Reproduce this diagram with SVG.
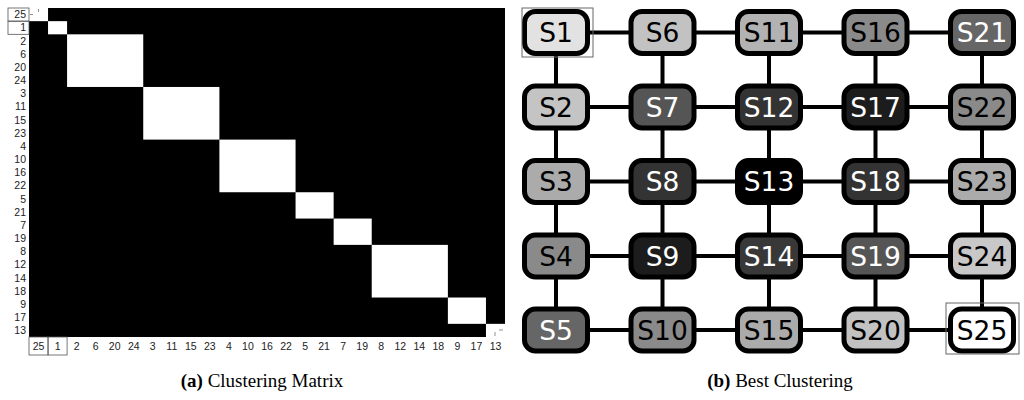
<svg xmlns="http://www.w3.org/2000/svg" width="1024" height="400" viewBox="0 0 1024 400">
<style>
.lbl{font-family:"Liberation Sans",Arial,sans-serif;font-size:10.5px;fill:#222}
.lb{text-anchor:end}
.bt{text-anchor:middle}
.wb{fill:#fff}
.box{fill:none;stroke:#555;stroke-width:0.8}
.mk{stroke:#777;stroke-width:0.8}
.node rect{stroke:#000;stroke-width:5}
.node text{font-family:"DejaVu Sans",Verdana,sans-serif;font-size:26.5px;text-anchor:middle}
.dk text{fill:#fff}
.lt text{fill:#000}
.conn line{stroke:#000;stroke-width:4}
.sel{fill:none;stroke:#666;stroke-width:1}
.cap{font-family:"Liberation Serif","Times New Roman",serif;font-size:19px;text-anchor:middle;fill:#000}
</style>
<rect width="1024" height="400" fill="#fff"/>
<g id="matrix">
<rect x="29" y="8" width="476" height="329" fill="#000"/>
<rect class="wb" x="29" y="8" width="19.04" height="13.16"/>
<rect class="wb" x="48.04" y="21.16" width="19.04" height="13.16"/>
<rect class="wb" x="67.08" y="34.32" width="76.16" height="52.64"/>
<rect class="wb" x="143.24" y="86.96" width="76.16" height="52.64"/>
<rect class="wb" x="219.4" y="139.6" width="76.16" height="52.64"/>
<rect class="wb" x="295.56" y="192.24" width="38.08" height="26.32"/>
<rect class="wb" x="333.64" y="218.56" width="38.08" height="26.32"/>
<rect class="wb" x="371.72" y="244.88" width="76.16" height="52.64"/>
<rect class="wb" x="447.88" y="297.52" width="38.08" height="26.32"/>
<rect class="wb" x="485.96" y="323.84" width="19.04" height="13.16"/>
<line class="mk" x1="30" y1="14.5" x2="33" y2="14.5"/>
<line class="mk" x1="38.5" y1="9" x2="38.5" y2="12"/>
<line class="mk" x1="495" y1="332" x2="495" y2="336"/>
<line class="mk" x1="499" y1="330" x2="503" y2="330"/>
<rect class="box" x="8" y="8" width="21" height="13.16"/>
<rect class="box" x="8" y="21.16" width="21" height="13.16"/>
<rect class="box" x="29" y="337" width="19.04" height="18"/>
<rect class="box" x="48.04" y="337" width="19.04" height="18"/>
<g class="lbl lb">
<text x="26" y="18.3">25</text>
<text x="26" y="31.4">1</text>
<text x="26" y="44.6">2</text>
<text x="26" y="57.8">6</text>
<text x="26" y="70.9">20</text>
<text x="26" y="84.1">24</text>
<text x="26" y="97.2">3</text>
<text x="26" y="110.4">11</text>
<text x="26" y="123.6">15</text>
<text x="26" y="136.7">23</text>
<text x="26" y="149.9">4</text>
<text x="26" y="163">10</text>
<text x="26" y="176.2">16</text>
<text x="26" y="189.4">22</text>
<text x="26" y="202.5">5</text>
<text x="26" y="215.7">21</text>
<text x="26" y="228.8">7</text>
<text x="26" y="242">19</text>
<text x="26" y="255.2">8</text>
<text x="26" y="268.3">12</text>
<text x="26" y="281.5">14</text>
<text x="26" y="294.6">18</text>
<text x="26" y="307.8">9</text>
<text x="26" y="321">17</text>
<text x="26" y="334.1">13</text>
</g>
<g class="lbl bt">
<text x="38.52" y="350">25</text>
<text x="57.56" y="350">1</text>
<text x="76.6" y="350">2</text>
<text x="95.64" y="350">6</text>
<text x="114.68" y="350">20</text>
<text x="133.72" y="350">24</text>
<text x="152.76" y="350">3</text>
<text x="171.8" y="350">11</text>
<text x="190.84" y="350">15</text>
<text x="209.88" y="350">23</text>
<text x="228.92" y="350">4</text>
<text x="247.96" y="350">10</text>
<text x="267" y="350">16</text>
<text x="286.04" y="350">22</text>
<text x="305.08" y="350">5</text>
<text x="324.12" y="350">21</text>
<text x="343.16" y="350">7</text>
<text x="362.2" y="350">19</text>
<text x="381.24" y="350">8</text>
<text x="400.28" y="350">12</text>
<text x="419.32" y="350">14</text>
<text x="438.36" y="350">18</text>
<text x="457.4" y="350">9</text>
<text x="476.44" y="350">17</text>
<text x="495.48" y="350">13</text>
</g>
</g>
<g id="connectors" class="conn">
<line x1="556" y1="32.5" x2="982" y2="32.5"/>
<line x1="556" y1="107" x2="982" y2="107"/>
<line x1="556" y1="181.5" x2="982" y2="181.5"/>
<line x1="556" y1="256" x2="982" y2="256"/>
<line x1="556" y1="330" x2="982" y2="330"/>
<line x1="556" y1="32.5" x2="556" y2="330"/>
<line x1="662.5" y1="32.5" x2="662.5" y2="330"/>
<line x1="769" y1="32.5" x2="769" y2="330"/>
<line x1="875.5" y1="32.5" x2="875.5" y2="330"/>
<line x1="982" y1="32.5" x2="982" y2="330"/>
</g>
<g id="S1" class="node lt"><rect x="524.5" y="11.5" width="63" height="42" rx="11" fill="#e2e2e2"/><text x="556" y="42">S1</text></g>
<g id="S2" class="node lt"><rect x="524.5" y="86" width="63" height="42" rx="11" fill="#c4c4c4"/><text x="556" y="116.5">S2</text></g>
<g id="S3" class="node lt"><rect x="524.5" y="160.5" width="63" height="42" rx="11" fill="#ababab"/><text x="556" y="191">S3</text></g>
<g id="S4" class="node lt"><rect x="524.5" y="235" width="63" height="42" rx="11" fill="#8a8a8a"/><text x="556" y="265.5">S4</text></g>
<g id="S5" class="node dk"><rect x="524.5" y="309" width="63" height="42" rx="11" fill="#666"/><text x="556" y="339.5">S5</text></g>
<g id="S6" class="node lt"><rect x="631" y="11.5" width="63" height="42" rx="11" fill="#c2c2c2"/><text x="662.5" y="42">S6</text></g>
<g id="S7" class="node dk"><rect x="631" y="86" width="63" height="42" rx="11" fill="#555"/><text x="662.5" y="116.5">S7</text></g>
<g id="S8" class="node dk"><rect x="631" y="160.5" width="63" height="42" rx="11" fill="#333"/><text x="662.5" y="191">S8</text></g>
<g id="S9" class="node dk"><rect x="631" y="235" width="63" height="42" rx="11" fill="#1c1c1c"/><text x="662.5" y="265.5">S9</text></g>
<g id="S10" class="node lt"><rect x="631" y="309" width="63" height="42" rx="11" fill="#8a8a8a"/><text x="662.5" y="339.5">S10</text></g>
<g id="S11" class="node lt"><rect x="737.5" y="11.5" width="63" height="42" rx="11" fill="#b2b2b2"/><text x="769" y="42">S11</text></g>
<g id="S12" class="node dk"><rect x="737.5" y="86" width="63" height="42" rx="11" fill="#333"/><text x="769" y="116.5">S12</text></g>
<g id="S13" class="node dk"><rect x="737.5" y="160.5" width="63" height="42" rx="11" fill="#000"/><text x="769" y="191">S13</text></g>
<g id="S14" class="node dk"><rect x="737.5" y="235" width="63" height="42" rx="11" fill="#383838"/><text x="769" y="265.5">S14</text></g>
<g id="S15" class="node lt"><rect x="737.5" y="309" width="63" height="42" rx="11" fill="#ababab"/><text x="769" y="339.5">S15</text></g>
<g id="S16" class="node lt"><rect x="844" y="11.5" width="63" height="42" rx="11" fill="#8a8a8a"/><text x="875.5" y="42">S16</text></g>
<g id="S17" class="node dk"><rect x="844" y="86" width="63" height="42" rx="11" fill="#1c1c1c"/><text x="875.5" y="116.5">S17</text></g>
<g id="S18" class="node dk"><rect x="844" y="160.5" width="63" height="42" rx="11" fill="#333"/><text x="875.5" y="191">S18</text></g>
<g id="S19" class="node dk"><rect x="844" y="235" width="63" height="42" rx="11" fill="#555"/><text x="875.5" y="265.5">S19</text></g>
<g id="S20" class="node lt"><rect x="844" y="309" width="63" height="42" rx="11" fill="#c2c2c2"/><text x="875.5" y="339.5">S20</text></g>
<g id="S21" class="node dk"><rect x="950.5" y="11.5" width="63" height="42" rx="11" fill="#666"/><text x="982" y="42">S21</text></g>
<g id="S22" class="node lt"><rect x="950.5" y="86" width="63" height="42" rx="11" fill="#8a8a8a"/><text x="982" y="116.5">S22</text></g>
<g id="S23" class="node lt"><rect x="950.5" y="160.5" width="63" height="42" rx="11" fill="#ababab"/><text x="982" y="191">S23</text></g>
<g id="S24" class="node lt"><rect x="950.5" y="235" width="63" height="42" rx="11" fill="#c8c8c8"/><text x="982" y="265.5">S24</text></g>
<g id="S25" class="node lt"><rect x="950.5" y="309" width="63" height="42" rx="11" fill="#fff"/><text x="982" y="339.5">S25</text></g>
<rect class="sel" x="522" y="8" width="71" height="49"/>
<rect class="sel" x="946" y="303" width="73" height="51"/>
<text class="cap" x="262" y="387"><tspan font-weight="bold">(a)</tspan> Clustering Matrix</text>
<text class="cap" x="780" y="387"><tspan font-weight="bold">(b)</tspan> Best Clustering</text>
</svg>
